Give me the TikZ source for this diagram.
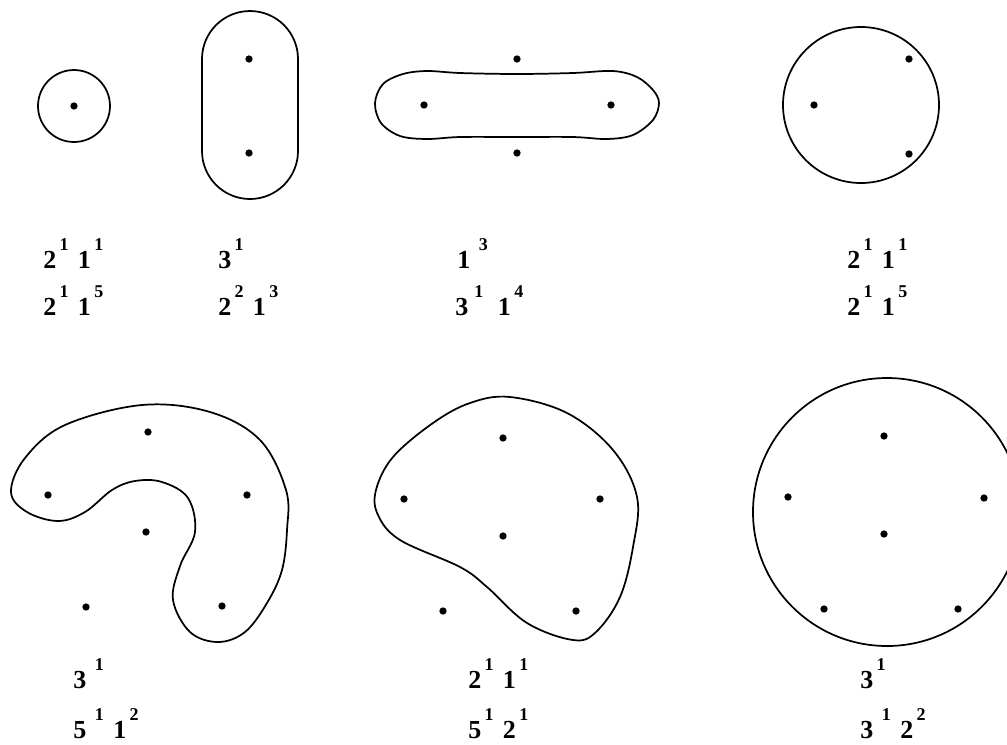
\documentclass[tikz,border=0pt]{standalone}
\usepackage{fontspec}
\setmainfont{Liberation Serif}
\newcommand{\pw}[2]{#1\hspace{2.5pt}\raisebox{13pt}{\fontsize{13.5}{15}\selectfont #2}\hspace{7pt}}

\begin{document}
\begin{tikzpicture}[x=0.75pt, y=-0.75pt,
            pt/.style={circle, fill=black, minimum size=5.5pt, inner sep=0pt},
            bd/.style={draw=black, line width=1.3pt},
            lab/.style={anchor=base west, inner sep=0pt, font=\fontsize{19.5}{22}\selectfont\bfseries}]
            \clip (0,0) rectangle (1007,744);
            % top row
            \node[pt] (a1) at (74,106) {};
            \draw[bd] (a1) circle[radius=36];
            \node[pt] (b1) at (249,59)  {};
            \node[pt] (b2) at (249,153) {};
            \draw[bd, rounded corners=36pt] (202,11) rectangle (298,199);
            \node[pt] (c1) at (424,105) {};
            \node[pt] (c2) at (611,105) {};
            \node[pt] (c3) at (517,59)  {};
            \node[pt] (c4) at (517,153) {};
            \draw[bd] plot[smooth cycle, tension=0.55] coordinates {(375,103) (383,84) (403,74) (427,71) (460,73) (517,74)
                (573,73) (613,71) (637,77) (653,90) (659,103) (653,120) (633,135) (607,139) (573,137)
                (517,137) (460,137) (427,139) (400,136) (381,123)};
            \node[pt] (d1) at (909,59)  {};
            \node[pt] (d2) at (814,105) {};
            \node[pt] (d3) at (909,154) {};
            \draw[bd] (861,105) circle[radius=78];
            % bottom row
            \node[pt] (e1) at (148,432) {};
            \node[pt] (e2) at (48,495)  {};
            \node[pt] (e3) at (247,495) {};
            \node[pt] (e4) at (146,532) {};
            \node[pt] (e5) at (86,607)  {};
            \node[pt] (e6) at (222,606) {};
            \draw[bd] plot[smooth cycle, tension=0.6] coordinates {(142,405) (210,412) (260,440) (286,490) (287,530)
                (282,570) (267,603) (245,632) (218,642) (190,632) (173,600) (180,566) (195,532) (188,498)
                (162,482) (135,481) (112,490) (85,512) (58,521) (27,512) (11,492) (25,458) (65,425)};
            \node[pt] (f1) at (503,438) {};
            \node[pt] (f2) at (404,499) {};
            \node[pt] (f3) at (600,499) {};
            \node[pt] (f4) at (503,536) {};
            \node[pt] (f5) at (443,611) {};
            \node[pt] (f6) at (576,611) {};
            \draw[bd] plot[smooth cycle, tension=0.6] coordinates {(510,397) (567,413) (613,450) (637,497) (633,547)
                (620,597) (596,632) (573,640) (527,623) (487,587) (460,567) (400,540) (378,515) (376,490)
                (393,457) (433,423) (470,403)};
            \node[pt] (g1) at (884,436) {};
            \node[pt] (g2) at (788,497) {};
            \node[pt] (g3) at (984,498) {};
            \node[pt] (g4) at (884,534) {};
            \node[pt] (g5) at (824,609) {};
            \node[pt] (g6) at (958,609) {};
            \draw[bd] (887,512) circle[radius=134];
            % labels
            \node[lab] (la1) at (43,268)  {\pw{2}{1}\pw{1}{1}};
            \node[lab] (la2) at (43,315)  {\pw{2}{1}\pw{1}{5}};
            \node[lab] (lb1) at (218,268) {\pw{3}{1}};
            \node[lab] (lb2) at (218,315) {\pw{2}{2}\pw{1}{3}};
            \node[lab] (lc1) at (457,268) {\pw{1}{\hspace{4pt}3}};
            \node[lab] (lc2) at (455,315) {\pw{3}{\hspace{2pt}1}\hspace{4pt}\pw{1}{4}};
            \node[lab] (ld1) at (847,268) {\pw{2}{1}\pw{1}{1}};
            \node[lab] (ld2) at (847,315) {\pw{2}{1}\pw{1}{5}};
            \node[lab] (le1) at (73,688)  {\pw{3}{\hspace{4pt}1}};
            \node[lab] (le2) at (73,738)  {\pw{5}{\hspace{4pt}1}\pw{1}{2}};
            \node[lab] (lf1) at (468,688) {\pw{2}{1}\pw{1}{1}};
            \node[lab] (lf2) at (468,738) {\pw{5}{1}\pw{2}{1}};
            \node[lab] (lg1) at (860,688) {\pw{3}{1}};
            \node[lab] (lg2) at (860,738) {\pw{3}{\hspace{4pt}1}\pw{2}{2}};
        \end{tikzpicture}
\end{document}
